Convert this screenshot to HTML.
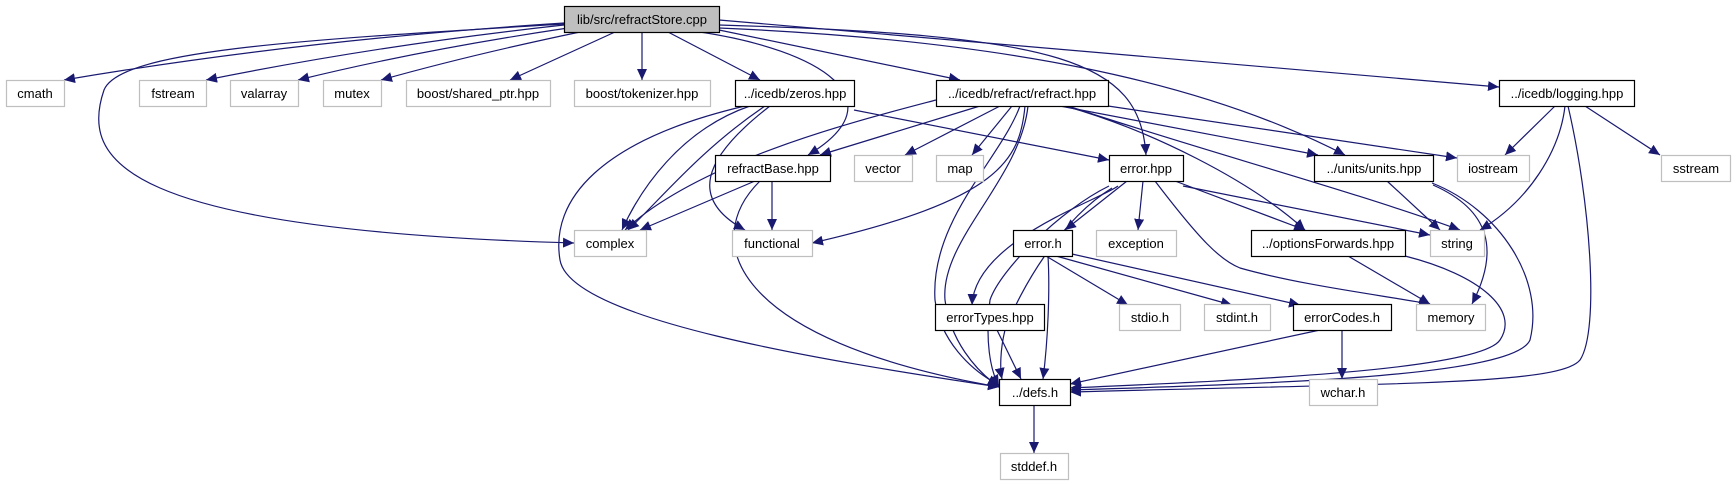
<!DOCTYPE html>
<html><head><meta charset="utf-8"><style>
html,body{margin:0;padding:0;background:#fff;}
svg{display:block;}
text{font-family:"Liberation Sans",sans-serif;font-size:13px;fill:#000;}
</style></head><body>
<svg width="1736" height="485" viewBox="0 0 1736 485" xmlns="http://www.w3.org/2000/svg">
<defs>
<marker id="a" markerUnits="userSpaceOnUse" markerWidth="12" markerHeight="10" refX="11" refY="5" orient="auto">
<path d="M0,0 L11,5 L0,10 Z" fill="#191970"/>
</marker>
</defs>
<g fill="none" stroke="#191970" stroke-width="1.2" marker-end="url(#a)">
<!-- refractStore -->
<path d="M564,23 Q300,40 64,80"/>
<path d="M564,25 Q380,45 206,80"/>
<path d="M568,28 Q420,50 298,80"/>
<path d="M580,32 Q470,55 381,80"/>
<path d="M615,32 L510,80"/>
<path d="M642,32 L642,80"/>
<path d="M668,32 L760,80"/>
<path d="M564,24 C300,40 120,50 104,90 C80,160 120,230 574,243"/>
<path d="M700,32 C820,50 900,100 808,155"/>
<path d="M719,30 L960,80"/>
<path d="M719,25 C1060,35 1140,60 1146,155"/>
<path d="M719,28 C1000,40 1200,80 1345,155"/>
<path d="M719,20 L1499,87"/>
<!-- zeros -->
<path d="M750,106 C680,130 640,190 622,230"/>
<path d="M770,106 C700,160 690,200 745,230"/>
<path d="M745,106 C600,140 550,200 560,260 C570,320 820,360 999,387"/>
<path d="M854,110 L1109,160"/>
<path d="M765,106 C700,150 660,200 628,230"/>
<!-- refract.hpp -->
<path d="M936,100 C860,120 700,160 625,230"/>
<path d="M980,106 L820,155"/>
<path d="M1000,106 L905,155"/>
<path d="M1012,106 L972,155"/>
<path d="M1025,106 C1020,160 1000,200 812,243"/>
<path d="M1020,106 C1000,160 930,220 935,300 C940,340 970,370 999,385"/>
<path d="M1028,106 C1020,180 940,240 945,300 C950,340 975,370 999,387"/>
<path d="M1060,106 L1318,155"/>
<path d="M1108,106 L1457,158"/>
<path d="M1065,106 C1150,130 1250,180 1305,230"/>
<path d="M1068,106 C1200,150 1350,190 1460,230"/>
<!-- refractBase -->
<path d="M755,181 L640,230"/>
<path d="M772,181 L772,230"/>
<path d="M760,181 C700,240 730,340 999,387"/>
<!-- error.hpp -->
<path d="M1127,181 L1065,230"/>
<path d="M1143,181 L1138,230"/>
<path d="M1175,181 L1305,230"/>
<path d="M1183,186 L1430,235"/>
<path d="M1155,181 C1200,240 1220,260 1240,268 C1300,285 1380,295 1430,304"/>
<path d="M1109,186 C1060,210 1000,270 990,300 C985,340 990,370 999,386"/>
<path d="M1112,188 C1060,220 1020,290 1005,330 C1000,350 1000,370 1002,379"/>
<path d="M1118,186 C1100,200 975,240 972,305"/>
<!-- units -->
<path d="M1387,181 L1440,230"/>
<path d="M1433,185 C1490,210 1500,250 1472,304"/>
<path d="M1432,183 C1500,210 1545,280 1530,340 C1515,375 1300,383 1070,390"/>
<!-- logging -->
<path d="M1555,106 L1505,155"/>
<path d="M1565,106 C1560,150 1530,200 1480,230"/>
<path d="M1585,106 L1660,155"/>
<path d="M1568,106 C1590,200 1600,330 1580,360 C1560,385 1400,383 1070,392"/>
<!-- optionsForwards -->
<path d="M1348,256 L1430,304"/>
<path d="M1405,256 C1480,275 1520,310 1500,340 C1480,370 1250,380 1070,388"/>
<!-- error.h -->
<path d="M1046,256 L1128,305"/>
<path d="M1056,256 L1232,305"/>
<path d="M1072,254 L1300,305"/>
<path d="M1048,256 C1050,290 1048,340 1043,379"/>
<!-- errorTypes -->
<path d="M997,330 L1021,379"/>
<!-- errorCodes -->
<path d="M1320,330 L1070,384"/>
<path d="M1342,330 L1342,379"/>
<!-- defs -->
<path d="M1034,404 L1034,453"/>
</g>
<g stroke-width="1.2">
<rect x="564.5" y="6.5" width="155" height="26" fill="#bfbfbf" stroke="#000"/>
<g fill="#fff" stroke="#bfbfbf">
<rect x="6.5" y="80.5" width="58" height="26"/>
<rect x="139.5" y="80.5" width="67" height="26"/>
<rect x="230.5" y="80.5" width="68" height="26"/>
<rect x="323.5" y="80.5" width="58" height="26"/>
<rect x="406.5" y="80.5" width="144" height="26"/>
<rect x="574.5" y="80.5" width="136" height="26"/>
<rect x="854.5" y="155.5" width="58" height="26"/>
<rect x="936.5" y="155.5" width="47" height="26"/>
<rect x="1457.5" y="155.5" width="72" height="26"/>
<rect x="1661.5" y="155.5" width="69" height="26"/>
<rect x="574.5" y="230.5" width="72" height="26"/>
<rect x="732.5" y="230.5" width="80" height="26"/>
<rect x="1096.5" y="230.5" width="80" height="26"/>
<rect x="1430.5" y="230.5" width="54" height="26"/>
<rect x="1416.5" y="304.5" width="69" height="26"/>
<rect x="1119.5" y="304.5" width="61" height="26"/>
<rect x="1204.5" y="304.5" width="66" height="26"/>
<rect x="1309.5" y="379.5" width="68" height="26"/>
<rect x="1000.5" y="453.5" width="68" height="26"/>
</g>
<g fill="#fff" stroke="#000">
<rect x="735.5" y="80.5" width="119" height="26"/>
<rect x="936.5" y="80.5" width="172" height="26"/>
<rect x="1499.5" y="80.5" width="135" height="26"/>
<rect x="715.5" y="155.5" width="115" height="26"/>
<rect x="1109.5" y="155.5" width="74" height="26"/>
<rect x="1314.5" y="155.5" width="119" height="26"/>
<rect x="1013.5" y="230.5" width="59" height="26"/>
<rect x="1251.5" y="230.5" width="154" height="26"/>
<rect x="935.5" y="304.5" width="109" height="26"/>
<rect x="1293.5" y="304.5" width="98" height="26"/>
<rect x="999.5" y="379.5" width="71" height="26"/>
</g>
</g>
<g text-anchor="middle">
<text x="642" y="24">lib/src/refractStore.cpp</text>
<text x="35" y="98">cmath</text>
<text x="173" y="98">fstream</text>
<text x="264" y="98">valarray</text>
<text x="352" y="98">mutex</text>
<text x="478" y="98">boost/shared_ptr.hpp</text>
<text x="642" y="98">boost/tokenizer.hpp</text>
<text x="795" y="98">../icedb/zeros.hpp</text>
<text x="1022" y="98">../icedb/refract/refract.hpp</text>
<text x="1567" y="98">../icedb/logging.hpp</text>
<text x="773" y="173">refractBase.hpp</text>
<text x="883" y="173">vector</text>
<text x="960" y="173">map</text>
<text x="1146" y="173">error.hpp</text>
<text x="1374" y="173">../units/units.hpp</text>
<text x="1493" y="173">iostream</text>
<text x="1696" y="173">sstream</text>
<text x="610" y="248">complex</text>
<text x="772" y="248">functional</text>
<text x="1043" y="248">error.h</text>
<text x="1136" y="248">exception</text>
<text x="1328" y="248">../optionsForwards.hpp</text>
<text x="1457" y="248">string</text>
<text x="1451" y="322">memory</text>
<text x="990" y="322">errorTypes.hpp</text>
<text x="1150" y="322">stdio.h</text>
<text x="1237" y="322">stdint.h</text>
<text x="1342" y="322">errorCodes.h</text>
<text x="1035" y="397">../defs.h</text>
<text x="1343" y="397">wchar.h</text>
<text x="1034" y="471">stddef.h</text>
</g>
</svg>
</body></html>
